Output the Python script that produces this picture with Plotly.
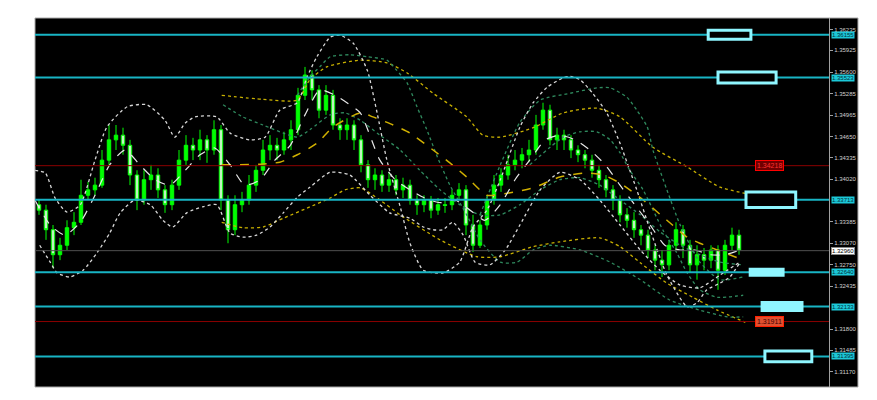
import plotly.graph_objects as go

# ---------------- data ----------------
bar_index = list(range(101))
open_ = [1.3364,1.3356,1.3327,1.3290,1.3304,1.3330,1.3338,1.3378,1.3386,1.3393,
         1.3430,1.3460,1.3467,1.3452,1.3408,1.3371,1.3401,1.3408,1.3386,1.3364,
         1.3393,1.3430,1.3452,1.3445,1.3460,1.3445,1.3475,1.3371,1.3327,1.3364,
         1.3371,1.3393,1.3415,1.3445,1.3452,1.3445,1.3460,1.3475,1.3526,1.3556,
         1.3534,1.3504,1.3526,1.3482,1.3475,1.3482,1.3460,1.3423,1.3401,1.3408,
         1.3393,1.3401,1.3386,1.3393,1.3371,1.3364,1.3371,1.3356,1.3364,1.3364,
         1.3378,1.3386,1.3334,1.3304,1.3334,1.3371,1.3393,1.3408,1.3423,1.3430,
         1.3438,1.3445,1.3482,1.3504,1.3460,1.3467,1.3460,1.3445,1.3438,1.3430,
         1.3415,1.3401,1.3386,1.3371,1.3349,1.3341,1.3327,1.3319,1.3297,1.3282,
         1.3275,1.3304,1.3327,1.3304,1.3275,1.3290,1.3282,1.3297,1.3267,1.3304,
         1.3319]
high = [1.3371,1.3364,1.3334,1.3315,1.3341,1.3353,1.3401,1.3398,1.3404,1.3445,
        1.3482,1.3482,1.3478,1.3460,1.3415,1.3415,1.3423,1.3418,1.3393,1.3401,
        1.3445,1.3467,1.3463,1.3475,1.3467,1.3489,1.3482,1.3378,1.3378,1.3383,
        1.3408,1.3423,1.3460,1.3467,1.3463,1.3472,1.3489,1.3537,1.3568,1.3563,
        1.3541,1.3541,1.3534,1.3492,1.3492,1.3489,1.3467,1.3430,1.3418,1.3415,
        1.3412,1.3408,1.3404,1.3401,1.3378,1.3378,1.3377,1.3374,1.3374,1.3386,
        1.3396,1.3393,1.3349,1.3341,1.3378,1.3408,1.3418,1.3438,1.3445,1.3448,
        1.3460,1.3497,1.3515,1.3512,1.3478,1.3475,1.3467,1.3452,1.3445,1.3438,
        1.3423,1.3408,1.3393,1.3378,1.3359,1.3353,1.3334,1.3327,1.3304,1.3297,
        1.3312,1.3338,1.3334,1.3312,1.3304,1.3300,1.3304,1.3304,1.3312,1.3330,
        1.3327]
low = [1.3349,1.3312,1.3270,1.3282,1.3297,1.3319,1.3334,1.3371,1.3378,1.3389,
       1.3423,1.3445,1.3438,1.3393,1.3356,1.3364,1.3386,1.3374,1.3352,1.3356,
       1.3386,1.3423,1.3430,1.3430,1.3426,1.3438,1.3356,1.3307,1.3319,1.3353,
       1.3364,1.3383,1.3408,1.3430,1.3430,1.3438,1.3445,1.3467,1.3519,1.3519,
       1.3492,1.3497,1.3475,1.3460,1.3460,1.3445,1.3412,1.3389,1.3386,1.3383,
       1.3383,1.3378,1.3374,1.3364,1.3349,1.3353,1.3344,1.3349,1.3352,1.3356,
       1.3371,1.3319,1.3294,1.3300,1.3327,1.3364,1.3383,1.3401,1.3415,1.3418,
       1.3427,1.3438,1.3475,1.3452,1.3445,1.3445,1.3433,1.3427,1.3418,1.3404,
       1.3389,1.3375,1.3356,1.3338,1.3330,1.3315,1.3304,1.3285,1.3267,1.3257,
       1.3267,1.3297,1.3285,1.3264,1.3253,1.3267,1.3270,1.3238,1.3260,1.3297,
       1.3290]
close = [1.3356,1.3327,1.3290,1.3304,1.3330,1.3338,1.3378,1.3386,1.3393,1.3430,
         1.3460,1.3467,1.3452,1.3408,1.3371,1.3401,1.3408,1.3386,1.3364,1.3393,
         1.3430,1.3452,1.3445,1.3460,1.3445,1.3475,1.3371,1.3327,1.3364,1.3371,
         1.3393,1.3415,1.3445,1.3452,1.3445,1.3460,1.3475,1.3526,1.3556,1.3534,
         1.3504,1.3526,1.3482,1.3475,1.3482,1.3460,1.3423,1.3401,1.3408,1.3393,
         1.3401,1.3386,1.3393,1.3371,1.3364,1.3371,1.3356,1.3364,1.3363,1.3378,
         1.3386,1.3334,1.3304,1.3334,1.3371,1.3393,1.3408,1.3423,1.3430,1.3438,
         1.3445,1.3482,1.3504,1.3460,1.3467,1.3460,1.3445,1.3438,1.3430,1.3415,
         1.3401,1.3386,1.3371,1.3349,1.3341,1.3327,1.3319,1.3297,1.3282,1.3275,
         1.3304,1.3327,1.3304,1.3275,1.3290,1.3282,1.3297,1.3267,1.3304,1.3319,
         1.3297]

# indicator lines (bar position, price)
white_arc_x = [-0.6,0.9,2.3,4.0,5.9,8.0,9.7,12.6,15.4,18.0,19.4,20.9,22.3,25.4,27.3,30.1,32.3,34.4,36.9,38.3,
               39.7,41.6,43.0,44.9,46.9,48.3,49.7,51.6,53.0,54.9,57.7,60.1,62.0,64.0,65.9,68.7,70.6,72.6,74.9,75.9,
               77.3,79.1,81.1,83.0,84.4,85.4,87.3,89.7,92.6,94.0,95.4,97.3,98.7,100.1]
white_arc_y = [1.3415,1.3411,1.3374,1.3353,1.3364,1.3430,1.3479,1.3509,1.3512,1.3489,1.3464,1.3485,1.3494,1.3494,1.3470,1.3460,1.3464,1.3504,1.3515,1.3553,
               1.3583,1.3612,1.3615,1.3603,1.3563,1.3500,1.3430,1.3361,1.3307,1.3267,1.3263,1.3279,1.3331,1.3356,1.3401,1.3479,1.3515,1.3538,1.3552,1.3554,
               1.3549,1.3529,1.3500,1.3455,1.3415,1.3386,1.3327,1.3260,1.3213,1.3219,1.3238,1.3248,1.3257,1.3278]
white_low_x = [0.1,1.6,2.6,4.4,6.3,8.3,10.1,11.6,13.7,15.9,17.7,19.1,21.1,23.4,25.4,27.3,29.1,31.1,33.0,34.9,
               36.9,38.7,41.6,44.4,47.3,50.1,53.0,54.9,56.3,57.7,59.1,60.6,62.3,64.4,66.6,68.7,71.6,74.4,77.3,80.1,
               83.0,85.9,88.7,91.6,94.4,97.3,100.1]
white_low_y = [1.3304,1.3279,1.3263,1.3257,1.3267,1.3293,1.3322,1.3352,1.3371,1.3364,1.3341,1.3331,1.3352,1.3361,1.3364,1.3322,1.3316,1.3319,1.3331,1.3352,
               1.3375,1.3390,1.3412,1.3408,1.3378,1.3352,1.3344,1.3331,1.3327,1.3327,1.3338,1.3319,1.3279,1.3275,1.3297,1.3334,1.3386,1.3412,1.3401,1.3371,
               1.3334,1.3297,1.3267,1.3245,1.3241,1.3260,1.3279]
white_mid_x = [-0.6,1.6,3.7,5.9,8.0,10.1,12.3,14.4,16.6,18.7,20.9,23.0,25.1,27.3,29.4,31.6,33.7,35.9,38.0,40.1,
               42.3,44.4,45.9,48.7,50.9,53.0,55.1,57.3,59.4,61.6,63.7,65.9,68.0,70.1,72.3,74.4,76.6,78.7,80.9,83.0,
               85.1,87.3,89.4,91.6,93.7,95.9,98.0,100.1]
white_mid_y = [1.3371,1.3334,1.3319,1.3338,1.3378,1.3423,1.3445,1.3423,1.3401,1.3393,1.3415,1.3438,1.3448,1.3423,1.3393,1.3401,1.3430,1.3452,1.3497,1.3534,
               1.3526,1.3512,1.3500,1.3430,1.3401,1.3386,1.3374,1.3367,1.3371,1.3356,1.3341,1.3364,1.3401,1.3430,1.3460,1.3467,1.3460,1.3445,1.3423,1.3393,
               1.3364,1.3334,1.3304,1.3297,1.3297,1.3290,1.3290,1.3297]
green_mid_x = [26.3,29.1,32.0,34.9,36.9,38.7,41.6,43.7,45.9,48.7,51.6,54.4,57.3,60.1,63.0,65.9,68.7,71.6,74.4,77.3,
               80.1,83.0,85.9,88.7,91.6,94.4,97.3,100.6]
green_mid_y = [1.3512,1.3494,1.3482,1.3470,1.3464,1.3475,1.3497,1.3500,1.3489,1.3467,1.3445,1.3415,1.3386,1.3364,1.3349,1.3349,1.3364,1.3386,1.3401,1.3404,
               1.3393,1.3371,1.3349,1.3324,1.3304,1.3290,1.3279,1.3275]
green_arc_x = [36.9,38.7,40.1,41.6,44.4,46.9,49.7,51.1,52.6,54.0,55.4,56.9,58.7,61.1,63.0,65.9,68.3,70.6,73.0,77.3,
               81.6,85.9,90.1,94.4,98.3,100.6]
green_arc_y = [1.3526,1.3553,1.3568,1.3583,1.3586,1.3583,1.3578,1.3563,1.3544,1.3509,1.3475,1.3435,1.3393,1.3349,1.3312,1.3279,1.3279,1.3297,1.3304,1.3297,
               1.3279,1.3253,1.3223,1.3208,1.3198,1.3198]
green_up_x = [63.0,65.9,68.7,71.6,75.9,79.7,81.6,84.0,85.4,86.9,87.7,88.7,89.7,91.6,94.4,97.3,100.6]
green_up_y = [1.3349,1.3423,1.3486,1.3519,1.3529,1.3537,1.3537,1.3523,1.3504,1.3479,1.3445,1.3415,1.3386,1.3334,1.3279,1.3253,1.3257]
green_in_x = [70.1,74.9,77.3,79.7,81.6,83.0,84.4,86.3,89.1,91.1,92.6,94.4,96.9,100.6]
green_in_y = [1.3423,1.3464,1.3472,1.3472,1.3460,1.3441,1.3415,1.3386,1.3327,1.3293,1.3263,1.3238,1.3227,1.3230]
yellow_up_x = [26.1,32.0,36.9,38.7,41.1,45.9,49.7,52.6,56.3,61.1,63.4,65.9,70.6,74.9,79.7,83.0,87.7,92.6,97.3,104.4]
yellow_up_y = [1.3526,1.3520,1.3519,1.3549,1.3568,1.3578,1.3574,1.3559,1.3529,1.3494,1.3467,1.3464,1.3478,1.3500,1.3507,1.3494,1.3449,1.3420,1.3390,1.3374]
yellow_mid_x = [26.1,31.6,34.4,36.9,39.7,42.0,45.9,47.7,50.6,53.0,56.3,58.7,61.1,64.0,66.9,70.6,74.4,78.3,80.6,83.0,
                86.3,89.7,92.6,94.4,96.9,100.6]
yellow_mid_y = [1.3423,1.3424,1.3427,1.3438,1.3455,1.3479,1.3500,1.3494,1.3482,1.3470,1.3445,1.3426,1.3405,1.3378,1.3381,1.3389,1.3405,1.3411,1.3408,1.3396,
                1.3371,1.3341,1.3316,1.3307,1.3297,1.3282]
yellow_low_x = [26.1,29.1,32.0,34.9,38.3,41.6,43.7,45.9,48.7,51.6,57.3,62.6,65.9,70.6,74.4,80.1,83.0,85.9,89.7,93.4,
                96.9,100.9]
yellow_low_y = [1.3338,1.3330,1.3331,1.3344,1.3359,1.3374,1.3386,1.3389,1.3371,1.3349,1.3312,1.3287,1.3287,1.3302,1.3309,1.3315,1.3302,1.3278,1.3248,1.3227,
                1.3208,1.3190]

# horizontal levels
cyan_levels = [1.36155, 1.35523, 1.33713, 1.32640, 1.32133, 1.31395]
red_levels = [1.34218, 1.31911]
current_price = 1.32960
tick_values = [1.36235, 1.35925, 1.35600, 1.35285, 1.34965, 1.34650, 1.34335, 1.34020,
               1.33385, 1.33070, 1.32750, 1.32435, 1.31800, 1.31485, 1.31170]
# boxes: x0 bar, x1 bar, half-height, filled
box_x0 = [95.6, 97.0, 101.0, 101.6, 103.3, 103.7]
box_x1 = [101.7, 105.3, 108.1, 106.3, 109.0, 110.4]
box_half = [0.00067, 0.00081, 0.00115, 0.00044, 0.00060, 0.00081]
box_filled = [False, False, False, True, True, False]

Y_RANGE = [1.30942, 1.36404]
X_RANGE = [-0.571, 112.857]

fig = go.Figure()

WHITE = "#d8d8d8"
GREEN = "#2f8a5e"
YELLOW = "#c8b000"

def add_line(x, y, color, dash, width=1.3):
    fig.add_trace(go.Scatter(x=x, y=y, mode="lines",
                             line=dict(color=color, dash=dash, width=width, shape="spline", smoothing=0.6),
                             hoverinfo="skip", showlegend=False))

add_line(yellow_up_x, yellow_up_y, YELLOW, "dot")
add_line(yellow_low_x, yellow_low_y, YELLOW, "dot")
add_line(green_mid_x, green_mid_y, GREEN, "dot")
add_line(green_arc_x, green_arc_y, GREEN, "dot")
add_line(green_up_x, green_up_y, GREEN, "dot")
add_line(green_in_x, green_in_y, GREEN, "dot")
add_line(white_arc_x, white_arc_y, WHITE, "dot")
add_line(white_low_x, white_low_y, WHITE, "dot")

fig.add_trace(go.Candlestick(x=bar_index, open=open_, high=high, low=low, close=close,
                             increasing=dict(line=dict(color="#00ff00", width=1), fillcolor="#00ff00"),
                             decreasing=dict(line=dict(color="#00ff00", width=1), fillcolor="#bff5bf"),
                             whiskerwidth=0, showlegend=False, hoverinfo="skip"))

add_line(yellow_mid_x, yellow_mid_y, "#d0b000", "dash", 1.5)
add_line(white_mid_x, white_mid_y, "#e8e8e8", "dash", 1.2)

shapes = []
shapes.append(dict(type="rect", xref="paper", yref="paper", x0=1, x1=1.0365, y0=0, y1=1,
                   fillcolor="black", line=dict(width=0), layer="below"))
shapes.append(dict(type="rect", xref="paper", yref="paper", x0=0, x1=1.0365, y0=0, y1=1,
                   fillcolor="rgba(0,0,0,0)", line=dict(color="#a8a8a8", width=1)))
for lv in red_levels:
    shapes.append(dict(type="line", xref="paper", yref="y", x0=0, x1=1, y0=lv, y1=lv,
                       line=dict(color="#8b0000", width=1)))
shapes.append(dict(type="line", xref="paper", yref="y", x0=0, x1=1, y0=current_price, y1=current_price,
                   line=dict(color="#505050", width=1)))
for lv in cyan_levels:
    shapes.append(dict(type="line", xref="paper", yref="y", x0=0, x1=1, y0=lv, y1=lv,
                       line=dict(color="#18b4c4", width=2)))
for lv, a, b, h, f in zip(cyan_levels, box_x0, box_x1, box_half, box_filled):
    shapes.append(dict(type="rect", xref="x", yref="y", x0=a, x1=b, y0=lv - h, y1=lv + h,
                       fillcolor="#8ff6ff" if f else "black",
                       line=dict(color="#8ff6ff", width=3)))
fig.update_layout(shapes=shapes)

LABEL_FONT = "Liberation Sans"
ann = []
for lv in cyan_levels:
    ann.append(dict(xref="paper", yref="y", x=1.003, y=lv, xanchor="left", yanchor="middle",
                    text=f"{lv:.5f}", showarrow=False, bgcolor="#1cc8d8", borderpad=0,
                    font=dict(size=6, color="#003038", family=LABEL_FONT)))
ann.append(dict(xref="paper", yref="y", x=1.003, y=current_price, xanchor="left", yanchor="middle",
                text=f"{current_price:.5f}", showarrow=False, bgcolor="#ffffff", bordercolor="#888888",
                borderpad=0, font=dict(size=6, color="#000000", family=LABEL_FONT)))
ann.append(dict(xref="x", yref="y", x=102.3, y=red_levels[0], xanchor="left", yanchor="middle",
                text=f"{red_levels[0]:.5f}", showarrow=False, bgcolor="#700000", bordercolor="#ff0000",
                borderpad=1, font=dict(size=7, color="#ff3030", family=LABEL_FONT)))
ann.append(dict(xref="x", yref="y", x=102.3, y=red_levels[1], xanchor="left", yanchor="middle",
                text=f"{red_levels[1]:.5f}", showarrow=False, bgcolor="#e05030", bordercolor="#ff2000",
                borderpad=1, font=dict(size=7, color="#400000", family=LABEL_FONT)))
fig.update_layout(annotations=ann)

# the page body adds an 8px margin, so the figure is sized to fill 877x400 from that offset
fig.update_layout(
    width=869, height=392,
    margin=dict(l=27, r=48, t=10, b=13),
    paper_bgcolor="white", plot_bgcolor="black",
    showlegend=False,
    xaxis=dict(range=X_RANGE, showgrid=False, zeroline=False, showticklabels=False,
               rangeslider=dict(visible=False), fixedrange=True),
    yaxis=dict(range=Y_RANGE, side="right", showgrid=False, zeroline=False,
               tickvals=tick_values, ticktext=[f"{v:.5f}" for v in tick_values],
               tickfont=dict(size=6, color="#d0d0d0", family=LABEL_FONT),
               ticks="outside", ticklen=3, tickcolor="#a0a0a0",
               showline=True, linecolor="#a0a0a0", linewidth=1),
)

fig.write_html("out.html")
